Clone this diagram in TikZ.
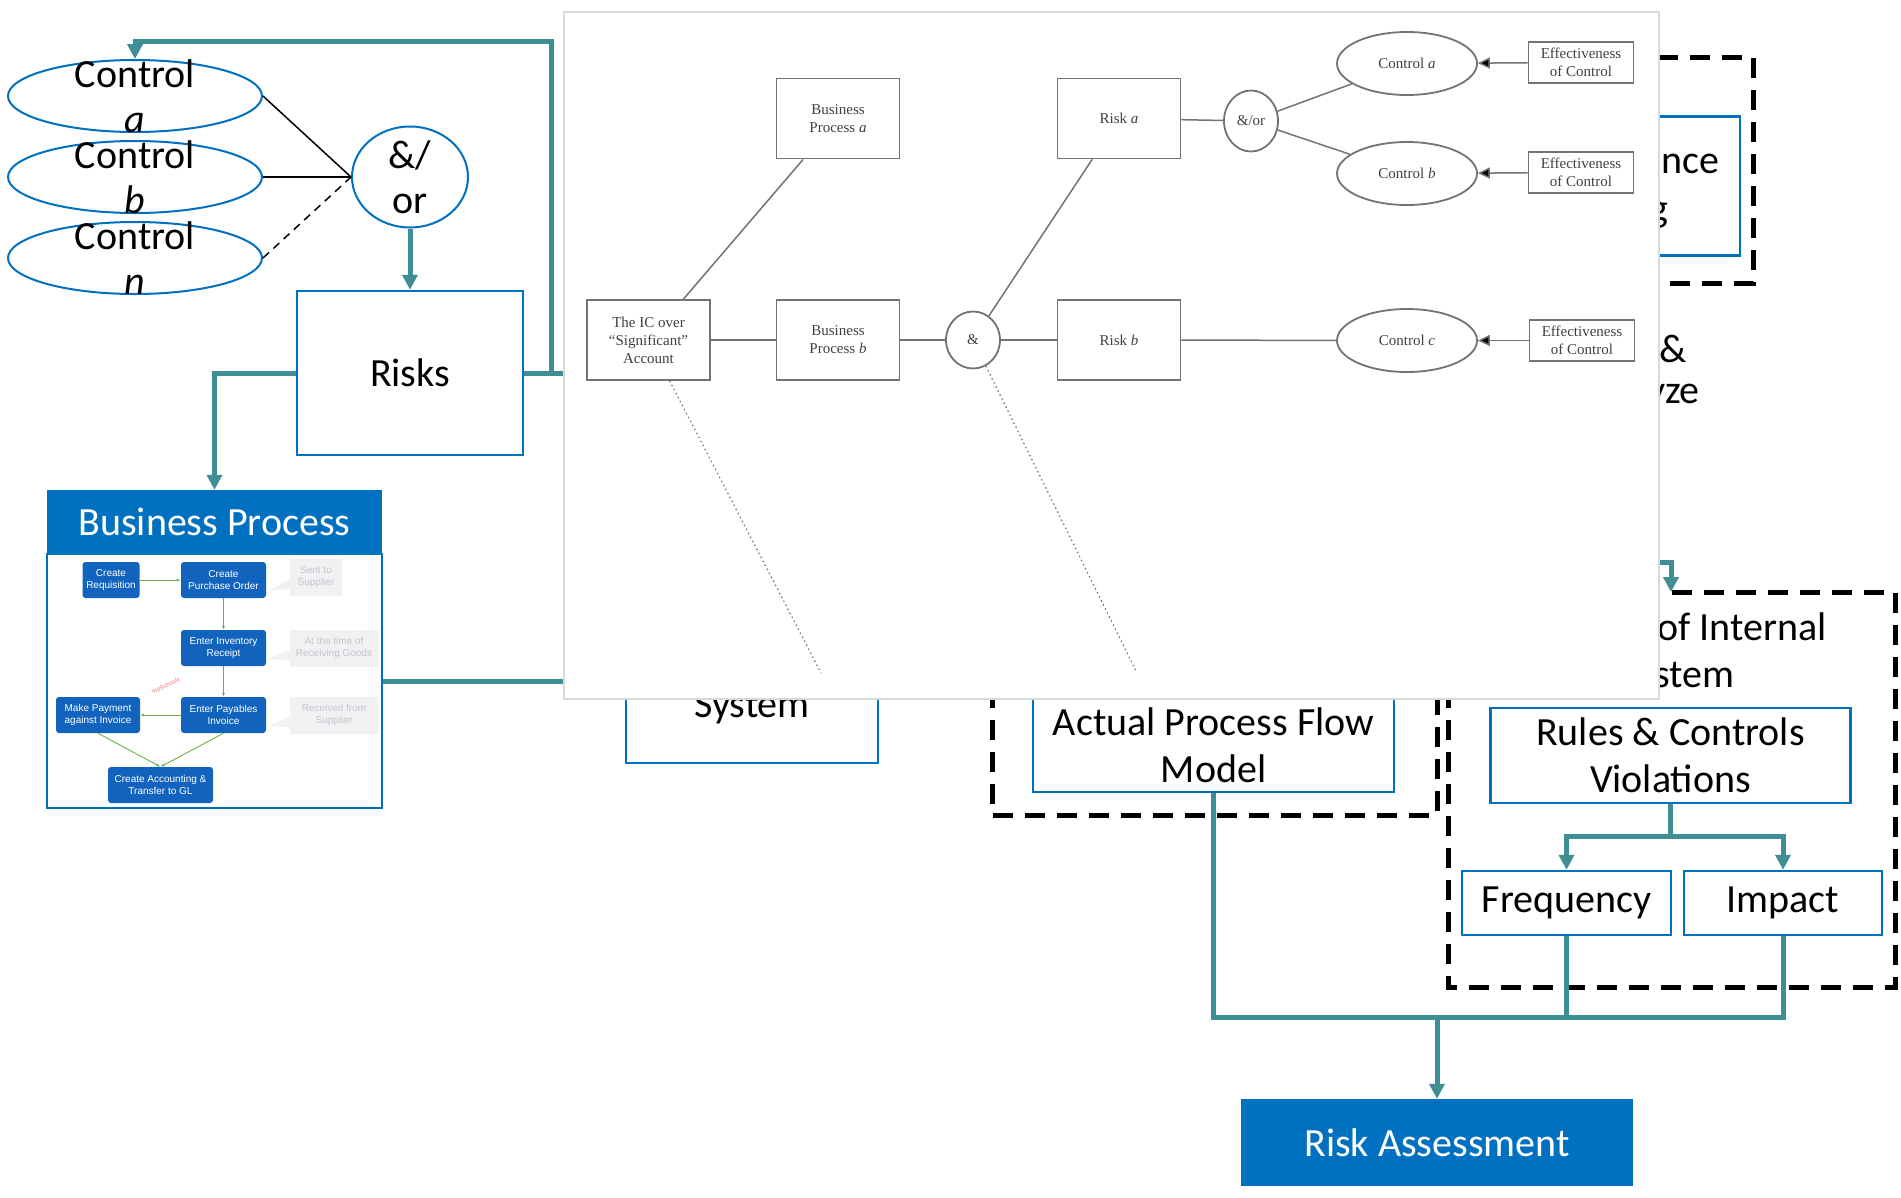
\documentclass[tikz,border=0pt]{standalone}
\usepackage{fontspec}
\setmainfont{Carlito}
\newfontfamily\panelfont{Liberation Serif}
\newfontfamily\bpfont{Liberation Sans}
\usetikzlibrary{arrows.meta,shapes.geometric,positioning,calc}

\definecolor{boxblue}{RGB}{0,112,192}
\definecolor{flowteal}{RGB}{62,142,148}
\definecolor{procblue}{RGB}{18,99,190}
\definecolor{notegray}{RGB}{240,241,243}
\definecolor{notetext}{RGB}{196,198,202}
\definecolor{stepgreen}{RGB}{104,178,72}
\definecolor{panelline}{RGB}{115,115,115}

\newcommand{\bigtext}{\fontsize{40}{47}\selectfont}
\newcommand{\ctrlfont}{\fontsize{40}{45}\selectfont}
\newcommand{\paneltext}{\panelfont\fontsize{15}{18}\selectfont}
\newcommand{\bptext}{\bpfont\fontsize{10}{12}\selectfont}

\tikzset{
  bluebox/.style={draw=boxblue, line width=2.5pt, fill=white, align=center, font=\bigtext, inner sep=0pt},
  ctrl/.style={ellipse, draw=boxblue, line width=2pt, minimum width=254pt, minimum height=72pt, inner sep=0pt},
  ctrltext/.style={align=center, font=\ctrlfont, inner sep=0pt},
  flow/.style={draw=flowteal, line width=5pt},
  group/.style={draw=black, line width=5pt, dash pattern=on 20pt off 12pt},
  pbox/.style={draw=panelline, line width=1.8pt, fill=white, align=center, font=\paneltext, text=black!75, minimum width=123pt, minimum height=80pt, inner sep=0pt},
  pell/.style={ellipse, draw=panelline, line width=1.8pt, fill=white, font=\paneltext, text=black!75, inner sep=0pt},
  peff/.style={pbox, minimum width=105pt, minimum height=41pt},
  pline/.style={draw=panelline, line width=1.5pt},
  bpstep/.style={fill=procblue, rounded corners=3pt, text=white, align=center, font=\bptext, minimum height=36pt, inner sep=1pt},
  bpnote/.style={fill=notegray, text=notetext, align=center, font=\bptext, minimum height=37pt, inner sep=1pt},
  bparrow/.style={draw=stepgreen, line width=0.9pt, -{Latex[length=4pt,width=3pt]}},
  frag/.style={font=\bigtext, anchor=base west, inner sep=0pt},
}

\begin{document}
\begin{tikzpicture}[x=1pt, y=-1pt, >={Triangle[length=15pt,width=15pt]}, node distance=81pt]
  \path[use as bounding box, fill=white] (0,0) rectangle (1901,1197);

  % controls, risks
  \node[ctrl, label={[ctrltext]center:Control\\\textit{a}}] (ca) at (135,96) {};
  \node[ctrl, label={[ctrltext]center:Control\\\textit{b}}] (cb) [below of=ca] {};
  \node[ctrl, label={[ctrltext]center:Control\\\textit{n}}] (cn) [below of=cb] {};
  \node[ellipse, draw=boxblue, line width=2pt, minimum width=116pt, minimum height=101pt,
        label={[ctrltext]center:\&/\\or}] (ao) at (410,177) {};
  \node[bluebox, minimum width=226pt, minimum height=164pt] (rk) at (410,373) {Risks};

  \draw[black, line width=1.5pt] (ca.east) -- (ao.west);
  \draw[black, line width=1.5pt] (cb.east) -- (ao.west);
  \draw[black, line width=1.5pt, dash pattern=on 8pt off 6pt] (cn.east) -- (ao.west);
  \draw[flow,->] (ao.south) -- (rk.north);

  \coordinate (rkloop) at (551,41);
  \coordinate (rkout) at (620,373);
  \draw[flow] (rk.east) -- (rkout);
  \draw[flow,->] (rk.east) -| (rkloop) -| (ca.north);

  % business process
  \node[draw=boxblue, line width=2pt, minimum width=335pt, minimum height=254pt, inner sep=0pt] (bpb) at (214.5,681) {};
  \node[fill=boxblue, text=white, font=\bigtext, minimum width=335pt, minimum height=64pt, inner sep=0pt] (bph) at (214.5,522) {Business Process};
  \draw[flow,->] (rk.west) -| (bph.north);

  \node[bpstep, minimum width=57pt] (req) at (111,580) {Create\\Requisition};
  \node[bpstep, minimum width=85pt] (po) at (223.5,580) {Create\\Purchase Order};
  \node[bpstep, minimum width=85pt] (inv) at (223.5,648) {Enter Inventory\\Receipt};
  \node[bpstep, minimum width=85pt] (pay) at (223.5,715) {Enter Payables\\Invoice};
  \node[bpstep, minimum width=84pt] (mkp) at (98,715) {Make Payment\\against Invoice};
  \node[bpstep, minimum width=105pt] (acc) at (160.5,785) {Create Accounting \&\\Transfer to GL};
  \node[bpnote, minimum width=52pt] (n1) at (316,577) {Sent to\\Supplier};
  \node[bpnote, minimum width=88pt] (n2) at (334,648) {At the time of\\Receiving Goods};
  \node[bpnote, minimum width=88pt] (n3) at (334,715) {Received from\\Supplier};
  \fill[notegray] ($(n1.west)+(0,2)$) -- ($(n1.west)+(0,12)$) -- ($(po.east)+(2,11)$) -- cycle;
  \fill[notegray] ($(n2.west)+(0,2)$) -- ($(n2.west)+(0,12)$) -- ($(inv.east)+(2,11)$) -- cycle;
  \fill[notegray] ($(n3.west)+(0,2)$) -- ($(n3.west)+(0,12)$) -- ($(pay.east)+(2,11)$) -- cycle;

  \draw[bparrow] (req) -- (po);
  \draw[bparrow] (po) -- (inv);
  \draw[bparrow] (inv) -- (pay);
  \draw[bparrow] (pay) -- (mkp);
  \draw[bparrow] (mkp.south) -- (acc.north);
  \draw[bparrow] (pay.south) -- (acc.north);
  \node[text=red!55, font=\bpfont\fontsize{6}{7}\selectfont, rotate=25] (wm) at (166,686) {erpSchools};

  \coordinate (bpout) at (620,681);
  \draw[flow] (bpb.east) -- (bpout);

  % boxes partly hidden by the panel
  \node[bluebox, minimum width=252pt, minimum height=110pt] (sys) at (752,708) {System};

  \draw[group] (992,560) rectangle (1437,815);
  \node[bluebox, minimum width=361pt, minimum height=94pt] (apf) at (1213.5,745) {Actual Process Flow\\Model};

  \draw[group] (1480,57) rectangle (1753,283);
  \node[bluebox, minimum width=220pt, minimum height=139pt, anchor=north east] (cmp) at (1741,115) {};
  \node[frag] (cmpa) at (1661,173) {nce};
  \node[frag] (cmpb) at (1649,221) {g};
  \node[frag] (exa) at (1659,362) {\&};
  \node[frag] (exb) at (1647,403) {yze};

  \draw[group] (1448,592) rectangle (1895,987);
  \node[frag] (eva) at (1657,640) {of Internal};
  \node[frag] (evb) at (1654,687) {stem};
  \coordinate (evin) at (1620,562);
  \coordinate (evtop) at (1671,592);
  \draw[flow,->] (evin) -| (evtop);

  \node[bluebox, minimum width=360pt, minimum height=95pt] (rcv) at (1670.5,755.5) {Rules \& Controls\\Violations};
  \node[bluebox, minimum width=209pt, minimum height=64pt] (fr) at (1566.5,903) {Frequency};
  \node[bluebox, minimum width=198pt, minimum height=64pt] (im) at (1783,903) {Impact};
  \node[fill=boxblue, text=white, font=\bigtext, minimum width=392pt, minimum height=87pt, inner sep=0pt] (rsk) at (1437,1142.5) {Risk Assessment};

  \coordinate (sp) at (1670.5,836);
  \draw[flow] (rcv.south) -- (sp);
  \draw[flow,->] (sp) -| (fr.north);
  \draw[flow,->] (sp) -| (im.north);
  \coordinate (jn) at (1437,1017);
  \draw[flow] (apf.south) |- (jn);
  \draw[flow] (fr.south) |- (jn);
  \draw[flow] (im.south) |- (jn);
  \draw[flow,->] (jn) -- (rsk.north);

  % pasted panel
  \draw[draw=black!15, line width=1.5pt, fill=white] (564,12) rectangle (1659,699);

  \node[pbox] (ic) at (648.5,340) {The IC over\\“Significant”\\Account};
  \node[pbox] (pba) at (838,118.5) {Business\\Process \textit{a}};
  \node[pbox] (pbb) at (838,340) {Business\\Process \textit{b}};
  \node[pell, minimum width=54pt, minimum height=57pt] (amp) at (973,340) {\&};
  \node[pbox] (rska) at (1119,118.5) {Risk \textit{a}};
  \node[pbox] (rskb) at (1119,340) {Risk \textit{b}};
  \node[pell, minimum width=54pt, minimum height=61pt] (andor) at (1251,121) {\&/or};
  \node[pell, minimum width=140pt, minimum height=63pt] (cta) at (1407,63.5) {Control \textit{a}};
  \node[pell, minimum width=140pt, minimum height=63pt] (ctb) at (1407,173.5) {Control \textit{b}};
  \node[pell, minimum width=140pt, minimum height=63pt] (ctc) at (1407,340.5) {Control \textit{c}};
  \node[peff] (efa) at (1581,62.5) {Effectiveness\\of Control};
  \node[peff] (efb) at (1581,172.5) {Effectiveness\\of Control};
  \node[peff] (efc) at (1582,340.5) {Effectiveness\\of Control};

  \path[pline] (ic) edge (pba)
    (ic) edge (pbb)
    (pbb) edge (amp)
    (amp) edge (rska)
    (amp) edge (rskb)
    (rska) edge (andor)
    (andor) edge (cta)
    (andor) edge (ctb)
    (rskb) edge (ctc);
  \path[pline, -{Triangle[length=12pt,width=11pt]}] (efa) edge (cta)
    (efb) edge (ctb)
    (efc) edge (ctc);

  \coordinate (d1) at (821,673);
  \coordinate (d2) at (1136,671);
  \draw[panelline, line width=1.2pt, dash pattern=on 1.5pt off 3pt] (ic) -- (d1);
  \draw[panelline, line width=1.2pt, dash pattern=on 1.5pt off 3pt] (amp) -- (d2);
\end{tikzpicture}
\end{document}
